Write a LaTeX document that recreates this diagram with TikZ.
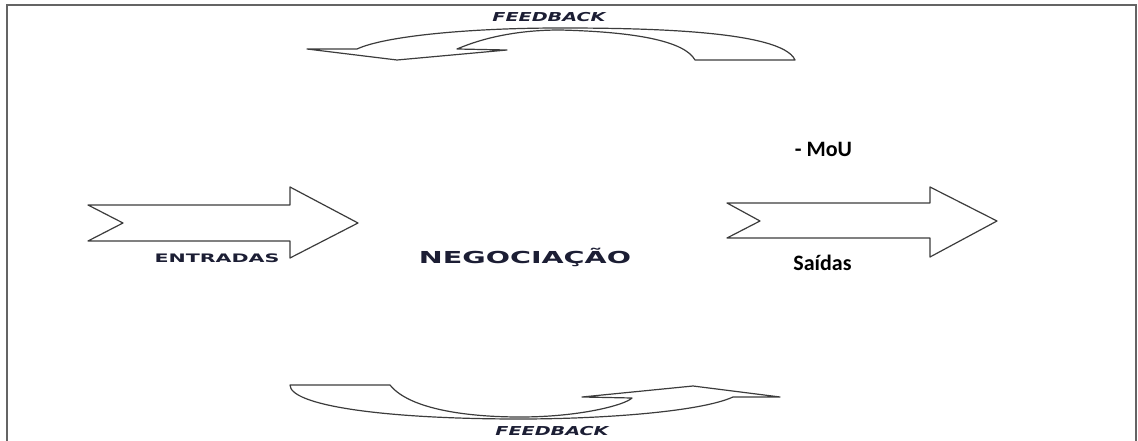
\documentclass[tikz,border=0pt]{standalone}
\usepackage{fontspec}
\setmainfont{DejaVu Sans}
\newfontfamily\carlito{Carlito}
\usepackage{graphicx}
\definecolor{navytext}{RGB}{28,30,52}
\definecolor{arrowline}{RGB}{60,60,60}
\definecolor{framecol}{RGB}{100,100,100}
\begin{document}
\begin{tikzpicture}[x=1pt,y=-1pt,
  blockarrow/.style={draw=arrowline, line width=1.2pt, fill=white, line join=round},
  framestyle/.style={draw=framecol, line width=2pt},
  widetext/.style={text=navytext, inner sep=0pt, anchor=base},
  plaintext/.style={text=black, inner sep=0pt, anchor=base, font=\carlito\bfseries\fontsize{22}{22}\selectfont}]
\useasboundingbox (0,0) rectangle (1138,441);
% frame
\draw[framestyle] (7,441) -- (7,5) -- (1136,5) -- (1136,441);
% top feedback arrow
\draw[blockarrow] (795,60) .. controls (782,30) and (640,28) .. (560,28)
  .. controls (470,28) and (385,36) .. (357,49)
  -- (307,49) -- (397,60) -- (507,50) -- (457,49)
  .. controls (485,37) and (520,30) .. (560,30)
  .. controls (640,32) and (685,42) .. (695,60) -- cycle;
% bottom feedback arrow
\draw[blockarrow] (290,385) -- (390,385)
  .. controls (410,410) and (470,417) .. (520,417)
  .. controls (580,417) and (625,405) .. (632,398)
  -- (582,397) -- (693,386) -- (780,397) -- (733,397)
  .. controls (700,412) and (600,419) .. (520,419)
  .. controls (380,419) and (290,405) .. (290,385) -- cycle;
% left arrow
\draw[blockarrow] (88,205) -- (123,223) -- (88,241) -- (290,241) -- (290,258)
  -- (358,223) -- (290,187) -- (290,205) -- cycle;
% right arrow
\draw[blockarrow] (727,203) -- (760,221) -- (727,238) -- (930,238) -- (930,257)
  -- (997,221) -- (930,187) -- (930,203) -- cycle;
% texts
\node[widetext] (fbtop) at (549,22) {\scalebox{1.56}[1]{\bfseries\itshape\fontsize{12.3}{12.3}\selectfont FEEDBACK}};
\node[widetext] (fbbot) at (552,435) {\scalebox{1.56}[1]{\bfseries\itshape\fontsize{12.3}{12.3}\selectfont FEEDBACK}};
\node[widetext] (entr) at (217,262) {\scalebox{1.76}[1]{\bfseries\fontsize{11.7}{11.7}\selectfont ENTRADAS}};
\node[widetext] (neg) at (525,263) {\scalebox{1.73}[1]{\bfseries\fontsize{16.5}{16.5}\selectfont NEGOCIAÇÃO}};
\node[plaintext] (mou) at (823.5,156.7) {- MoU};
\node[plaintext] (said) at (822.5,270.7) {Saídas};
\end{tikzpicture}
\end{document}
